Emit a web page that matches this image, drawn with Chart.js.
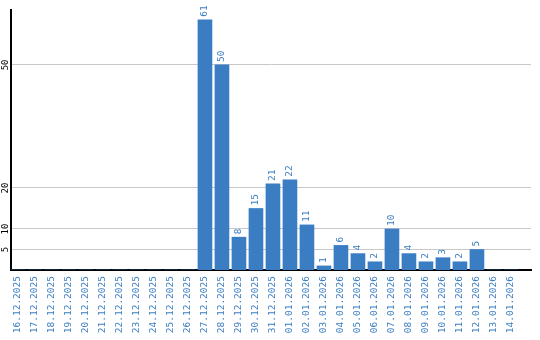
<!DOCTYPE html>
<html>
<head>
<meta charset="utf-8">
<script src="https://cdn.jsdelivr.net/npm/chart.js@4/dist/chart.umd.min.js"></script>
<style>
html,body{margin:0;padding:0;background:#fff;}
#wrap{width:540px;height:340px;position:relative;}
</style>
</head>
<body>
<div id="wrap"><canvas id="c" width="540" height="340"></canvas></div>
<script>
const dates = ['16.12.2025','17.12.2025','18.12.2025','19.12.2025','20.12.2025','21.12.2025','22.12.2025','23.12.2025','24.12.2025','25.12.2025','26.12.2025','27.12.2025','28.12.2025','29.12.2025','30.12.2025','31.12.2025','01.01.2026','02.01.2026','03.01.2026','04.01.2026','05.01.2026','06.01.2026','07.01.2026','08.01.2026','09.01.2026','10.01.2026','11.01.2026','12.01.2026','13.01.2026','14.01.2026'];
const counts = [0,0,0,0,0,0,0,0,0,0,0,61,50,8,15,21,22,11,1,6,4,2,10,4,2,3,2,5,0,0];
const yTickValues = [5,10,20,50];

const BLUE = '#3a7dc3';
const FONT = {family:'"DejaVu Sans Mono", monospace', size:9.5};

const barLabels = {
  id:'barLabels',
  afterDatasetsDraw(chart){
    const ctx = chart.ctx;
    const meta = chart.getDatasetMeta(0);
    ctx.save();
    ctx.fillStyle = BLUE;
    ctx.font = '9.5px "DejaVu Sans Mono", monospace';
    ctx.textAlign = 'left';
    ctx.textBaseline = 'middle';
    meta.data.forEach((bar,i)=>{
      const v = counts[i];
      if(!v) return;
      ctx.save();
      ctx.translate(bar.x, bar.y - 3);
      ctx.rotate(-Math.PI/2);
      ctx.fillText(String(v), 0, 0);
      ctx.restore();
    });
    ctx.restore();
  }
};

new Chart(document.getElementById('c'), {
  type:'bar',
  data:{
    datasets:[{
      data: counts.map((v,i)=>({x:i,y:v})),
      backgroundColor: BLUE,
      borderWidth:0,
      barThickness:14
    }]
  },
  options:{
    responsive:false,
    animation:false,
    layout:{padding:{top:10,right:9,left:0,bottom:0}},
    plugins:{legend:{display:false},tooltip:{enabled:false}},
    scales:{
      x:{
        type:'linear',
        min:-0.41,
        max:30.18,
        offset:false,
        grid:{display:false, drawTicks:false, offset:false},
        border:{display:true,color:'#000',width:2},
        afterBuildTicks(scale){ scale.ticks = dates.map((d,i)=>({value:i})); },
        afterFit(scale){ scale.height = 70; },
        ticks:{
          autoSkip:false,
          minRotation:90,maxRotation:90,
          padding:6,
          color:BLUE,
          font:FONT,
          callback:(v)=>dates[v]
        }
      },
      y:{
        min:0,
        max:63.4,
        grid:{color:'#c8c8c8',lineWidth:1,drawTicks:false},
        border:{display:true,color:'#000',width:2},
        afterBuildTicks(scale){ scale.ticks = yTickValues.map(v=>({value:v})); },
        afterFit(scale){ scale.width = 11; },
        ticks:{
          minRotation:90,maxRotation:90,
          crossAlign:'center',
          padding:0,
          color:'#000',
          font:{family:'"DejaVu Sans Mono", monospace', size:9}
        }
      }
    }
  },
  plugins:[barLabels]
});
</script>
</body>
</html>
